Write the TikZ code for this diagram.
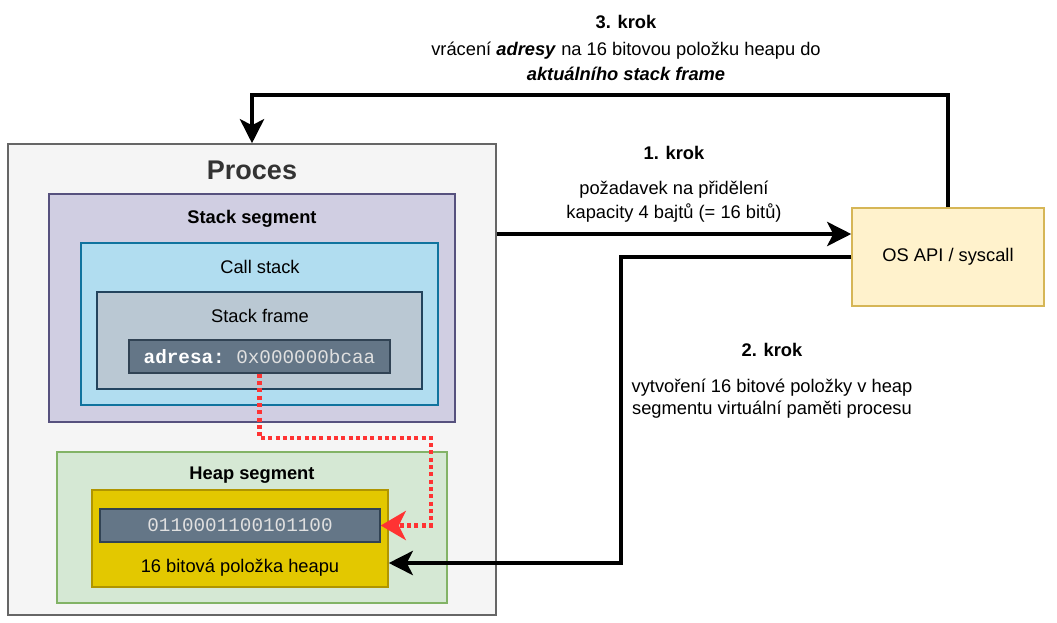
\documentclass[tikz,border=0pt]{standalone}
\usepackage{fontspec}
\setmainfont{Liberation Sans}
\setmonofont{Liberation Mono}
\usetikzlibrary{arrows.meta}
\definecolor{procfill}{HTML}{F5F5F5}
\definecolor{procdraw}{HTML}{666666}
\definecolor{procText}{HTML}{333333}
\definecolor{stackfill}{HTML}{D0CEE2}
\definecolor{stackdraw}{HTML}{56517E}
\definecolor{callfill}{HTML}{B1DDF0}
\definecolor{calldraw}{HTML}{10739E}
\definecolor{framefill}{HTML}{BAC8D3}
\definecolor{framedraw}{HTML}{23445D}
\definecolor{valfill}{HTML}{647687}
\definecolor{valdraw}{HTML}{314354}
\definecolor{heapfill}{HTML}{D5E8D4}
\definecolor{heapdraw}{HTML}{82B366}
\definecolor{itemfill}{HTML}{E3C800}
\definecolor{itemdraw}{HTML}{B09500}
\definecolor{osfill}{HTML}{FFF2CC}
\definecolor{osdraw}{HTML}{D6B656}
\definecolor{redline}{HTML}{FF3333}
\begin{document}
\begin{tikzpicture}[x=1pt,y=-1pt,
  box/.style={rectangle, line width=1.5pt, inner sep=0pt},
  txt/.style={font=\fontsize{18.3}{21.6}\selectfont, inner sep=0pt, align=center},
  btxt/.style={font=\fontsize{18.3}{21.6}\selectfont\bfseries, inner sep=0pt, align=center},
  mono/.style={font=\fontsize{19.3}{22}\selectfont\ttfamily},
  conn/.style={line width=4.5pt, -{Stealth[length=24pt,width=24pt,inset=6pt]}},
  refline/.style={line width=4.5pt, redline, dash pattern=on 4pt off 3.3pt,
    -{Stealth[length=25pt,width=29pt,inset=7pt]}},
]
\useasboundingbox[fill=white] (0,0) rectangle (1057,622);

% containers
\node[box, fill=procfill, draw=procdraw, minimum width=488pt, minimum height=471pt] (proc) at (252,379.5) {};
\node[font=\fontsize{27}{30}\selectfont\bfseries, text=procText, inner sep=0pt] (proct) at (252,170) {Proces};
\node[box, fill=stackfill, draw=stackdraw, minimum width=406pt, minimum height=228pt] (stack) at (252,308) {};
\node[btxt] (stackt) at (252,219) {Stack segment};
\node[box, fill=callfill, draw=calldraw, minimum width=357pt, minimum height=162pt] (call) at (259.5,324) {};
\node[txt] (callt) at (260,267) {Call stack};
\node[box, fill=framefill, draw=framedraw, minimum width=325pt, minimum height=97pt] (frame) at (259.5,340.5) {};
\node[txt] (framet) at (260,316) {Stack frame};
\node[box, fill=valfill, draw=valdraw, minimum width=261pt, minimum height=33pt,
  mono, text=white] (adresa) at (259.5,356.5)
  {\textbf{adresa:} {\color{white!88!black}0x000000bcaa}};

\node[box, fill=heapfill, draw=heapdraw, minimum width=390pt, minimum height=151pt] (heap) at (252,527.5) {};
\node[btxt] (heapt) at (252,475) {Heap segment};
\node[box, fill=itemfill, draw=itemdraw, minimum width=296pt, minimum height=97pt] (item) at (240,538.5) {};
\node[box, fill=valfill, draw=valdraw, minimum width=280pt, minimum height=33pt,
  mono, text=white!88!black] (binary) at (240,525.5) {0110001100101100};
\node[txt] (itemt) at (240,568) {16 bitová položka heapu};

\node[box, fill=osfill, draw=osdraw, minimum width=192pt, minimum height=98pt, txt] (os) at (948,257) {OS API / syscall};

% step labels
\node[btxt] (k3t) at (626,22) {3. krok};
\node[txt] (k3a) at (626,51) {vrácení \textbf{\textit{adresy}} na 16 bitovou položku heapu do};
\node[txt] (k3b) at (626,74) {\textbf{\textit{aktuálního stack frame}}};
\node[btxt] (k1t) at (674,153) {1. krok};
\node[txt] (k1a) at (674,190) {požadavek na přidělení};
\node[txt] (k1b) at (674,213) {kapacity 4 bajtů (= 16 bitů)};
\node[btxt] (k2t) at (772,350) {2. krok};
\node[txt] (k2a) at (772,388) {vytvoření 16 bitové položky v heap};
\node[txt] (k2b) at (772,410) {segmentu virtuální paměti procesu};

% connectors
\coordinate (o1) at ([yshift=23pt]os.west);
\draw[conn] (proc.east |- o1) -- (o1);
\coordinate (k2) at (621,563);
\coordinate (h1) at (item.east |- k2);
\draw[conn] (os.west) -| (k2) -- (h1);
\coordinate (k3) at (600,95);
\draw[conn] (os.north) |- (k3) -| (proc.north);
\coordinate (r1) at (431,438);
\draw[refline] (adresa.south) |- (r1) |- (binary.east);
\end{tikzpicture}
\end{document}
